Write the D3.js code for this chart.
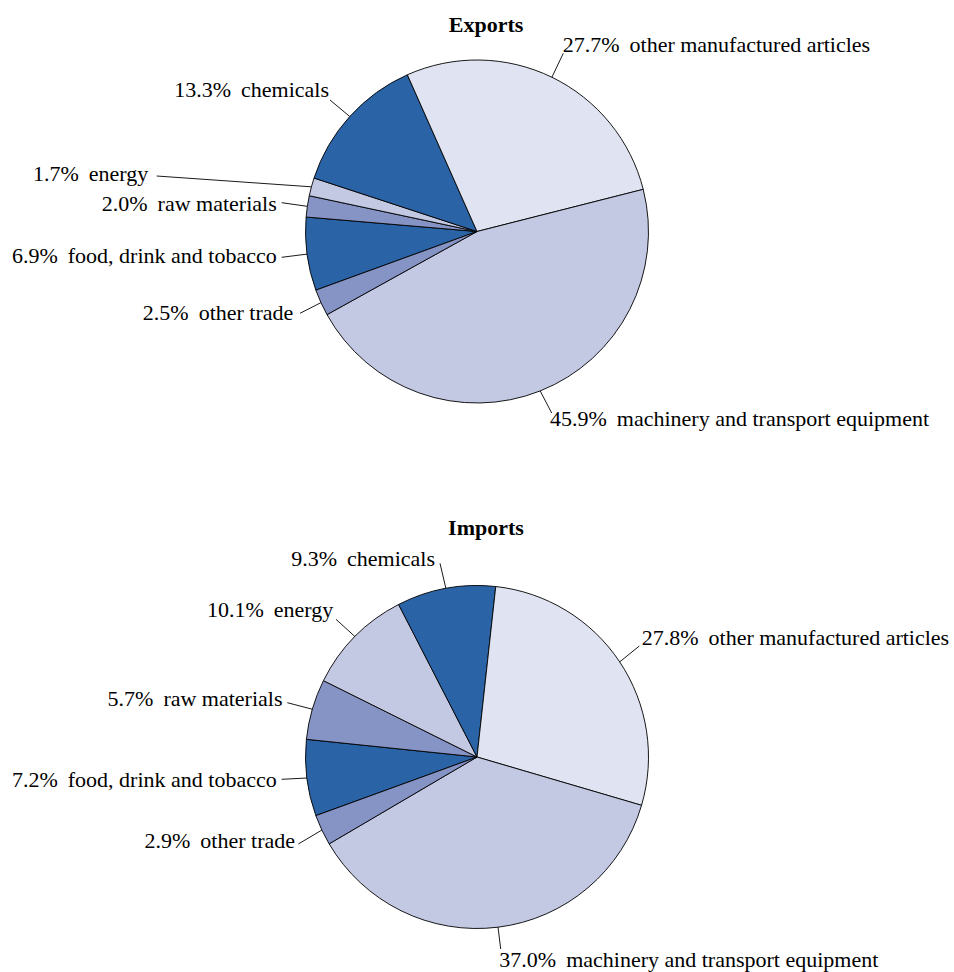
<!DOCTYPE html>
<html>
<head>
<meta charset="utf-8">
<script src="https://cdn.jsdelivr.net/npm/d3@7"></script>
<style>
  body { margin: 0; background: #fff; }
  text { font-family: "Liberation Serif", serif; fill: #000; }
</style>
</head>
<body>
<svg id="chart" width="954" height="972"></svg>
<script>
// Product groups, in drawing order (clockwise)
const categories = [
  "food, drink and tobacco",
  "raw materials",
  "energy",
  "chemicals",
  "other manufactured articles",
  "machinery and transport equipment",
  "other trade"
];

// Shares of total trade, %
const exportShares = [6.9, 2.0, 1.7, 13.3, 27.7, 45.9, 2.5];
const importShares = [7.2, 5.7, 10.1, 9.3, 27.8, 37.0, 2.9];

const panelTitles = ["Exports", "Imports"];

// Slice fill for each product group
const sliceColors = ["#2a63a6", "#8593c5", "#c3c8e3", "#2a63a6", "#e0e3f1", "#c3c8e3", "#8593c5"];

// Layout: pie centres, title baselines, label anchors and leader-line ends
// (offsets from the pie centre; side L = text ends at anchor, R = starts, B = hangs below)
const R = 171.5;
const startDeg = -110;
const layout = [
  {
    cx: 477, cy: 231.5, titleY: 31.7,
    labels: [
      { side: "L", at: [-200.3, 31.2],  end: [-195.3, 25.8] },
      { side: "L", at: [-200.3, -20.8], end: [-195.3, -28.8] },
      { side: "L", at: [-328.7, -50.8], end: [-320.3, -55.5] },
      { side: "L", at: [-148, -134.8],  end: [-147, -131.5] },
      { side: "R", at: [85.7, -179.8],  end: [86.3, -178.2] },
      { side: "B", at: [73, 194.5],     end: [74.7, 181.5] },
      { side: "L", at: [-183.7, 88.5],  end: [-177, 81.8] }
    ]
  },
  {
    cx: 477, cy: 757, titleY: 535,
    labels: [
      { side: "L", at: [-200.3, 30.3],  end: [-195.3, 22.3] },
      { side: "L", at: [-194.5, -51],   end: [-189.7, -54.3] },
      { side: "L", at: [-143.7, -140.3], end: [-141, -137.7] },
      { side: "L", at: [-42, -191],     end: [-37, -193.7] },
      { side: "R", at: [164.7, -112],   end: [162.3, -111] },
      { side: "B", at: [22.3, 210],     end: [23.7, 192] },
      { side: "L", at: [-182, 91.3],    end: [-178.7, 87] }
    ]
  }
];

const FONT = 22;
const svg = d3.select("#chart");
const seriesList = [exportShares, importShares];

const pie = d3.pie()
  .sort(null)
  .value(d => d.value)
  .startAngle(startDeg * Math.PI / 180)
  .endAngle((startDeg + 360) * Math.PI / 180);

const arc = d3.arc().innerRadius(0).outerRadius(R);

seriesList.forEach((values, p) => {
  const L = layout[p];
  const data = categories.map((c, i) => ({ category: c, value: values[i], color: sliceColors[i] }));
  const arcs = pie(data);

  const g = svg.append("g").attr("transform", `translate(${L.cx},${L.cy})`);

  svg.append("text")
    .attr("x", 486)
    .attr("y", L.titleY)
    .attr("text-anchor", "middle")
    .attr("font-weight", "bold")
    .attr("font-size", FONT)
    .text(panelTitles[p]);

  g.selectAll("path.slice")
    .data(arcs)
    .join("path")
    .attr("class", "slice")
    .attr("d", arc)
    .attr("fill", d => d.data.color)
    .attr("stroke", "#000")
    .attr("stroke-width", 0.9)
    .attr("stroke-linejoin", "round");

  // Leader lines from the slice's outer mid-point to its label
  g.selectAll("line.leader")
    .data(arcs)
    .join("line")
    .attr("class", "leader")
    .attr("x1", d => R * Math.sin((d.startAngle + d.endAngle) / 2))
    .attr("y1", d => -R * Math.cos((d.startAngle + d.endAngle) / 2))
    .attr("x2", (d, i) => L.labels[i].end[0])
    .attr("y2", (d, i) => L.labels[i].end[1])
    .attr("stroke", "#000")
    .attr("stroke-width", 0.9);

  const labels = g.selectAll("text.label")
    .data(arcs)
    .join("text")
    .attr("class", "label")
    .attr("font-size", FONT)
    .attr("x", (d, i) => L.labels[i].at[0])
    .attr("y", (d, i) => L.labels[i].at[1])
    .attr("text-anchor", (d, i) => L.labels[i].side === "L" ? "end" : "start");

  labels.append("tspan").text(d => d.data.value.toFixed(1) + "%");
  labels.append("tspan").attr("dx", 10).text(d => d.data.category);
});
</script>
</body>
</html>
